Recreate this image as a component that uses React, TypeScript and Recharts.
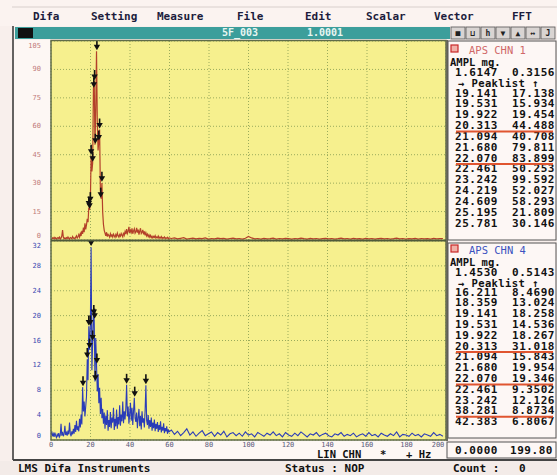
import React from 'react';
import { ComposedChart, Line, XAxis, YAxis, CartesianGrid } from 'recharts';

// FFT line spacing of the analyser (512 lines over 200 Hz)
const BIN = 0.390625;
// bins above ~60 Hz are kept every 4th line only
const TAIL_START = 156;
const TAIL_STEP = 4;

const freqTicks = [0, 20, 40, 60, 80, 100, 120, 140, 160, 180, 200];
const chn1Ticks = [0, 15, 30, 45, 60, 75, 90, 105];
const chn4Ticks = [0, 4, 8, 12, 16, 20, 24, 28, 32];

// APS CHN 1, bins 0..153 (0 - 59.8 Hz)
const chn1Low = [
  0.2, 0.6, 1.1, 0.8, 1.4, 0.7, 1.2, 0.5, 0.9, 1.3,
  0.8, 1.5, 0.6, 1.0, 2.1, 5.2, 1.4, 0.7, 1.1, 0.6,
  1.2, 0.8, 1.6, 0.9, 0.5, 1.3, 1.0, 0.7, 1.8, 0.9,
  1.1, 0.6, 1.4, 2.2, 1.0, 1.7, 2.8, 1.5, 3.4, 2.1,
  4.8, 3.2, 6.5, 4.1, 8.8, 5.6, 7.9, 11.2, 9.4, 17.1,
  15.9, 19.5, 44.5, 36.2, 40.7, 79.8, 83.9, 50.3, 68.5, 99.6,
  63.1, 47.2, 52.0, 58.3, 26.4, 21.8, 30.1, 14.6, 8.2, 5.1,
  3.6, 2.2, 4.1, 1.8, 3.0, 2.4, 1.5, 3.3, 2.0, 2.7,
  1.6, 3.1, 2.3, 1.4, 2.9, 1.9, 3.6, 2.2, 1.5, 2.8,
  2.0, 3.4, 2.5, 1.7, 3.9, 2.6, 4.4, 3.1, 5.8, 3.5,
  4.6, 6.9, 3.8, 5.2, 4.0, 6.1, 3.3, 4.8, 5.9, 3.6,
  4.3, 6.4, 3.9, 5.5, 2.8, 4.7, 6.2, 3.4, 4.1, 5.3,
  3.0, 4.6, 2.5, 3.8, 2.2, 3.1, 1.8, 2.7, 1.5, 2.4,
  1.3, 2.0, 1.1, 1.9, 1.4, 2.3, 1.0, 1.6, 1.2, 2.1,
  0.9, 1.5, 1.1, 1.8, 0.8, 1.3, 1.0, 1.6, 0.7, 1.2, 0.9, 1.4, 0.6, 1.1,
];
const chn1Tail = [
  0.8, 1.1, 0.6, 0.9, 1.2, 0.5, 0.8, 1.0, 0.6, 0.9,
  0.7, 1.1, 0.5, 0.8, 0.6, 1.0, 0.7, 0.9, 0.5, 0.8,
  1.0, 0.6, 0.8, 0.5, 0.9, 1.9, 1.1, 0.6, 0.8, 0.5,
  0.9, 0.6, 0.7, 1.0, 0.5, 0.8, 0.6, 0.9, 0.7, 0.5,
  0.8, 0.6, 1.0, 0.7, 0.5, 0.9, 0.6, 0.8, 0.5, 0.7,
  0.9, 0.6, 0.8, 0.5, 0.7, 1.0, 0.6, 0.8, 0.5, 0.9,
  0.6, 0.7, 0.5, 0.9, 0.6, 0.8, 0.5, 0.7, 0.9, 0.6,
  0.8, 0.5, 0.7, 1.0, 0.6, 0.8, 0.5, 0.7, 0.6, 0.9,
  0.5, 0.8, 0.6, 0.7, 0.5, 0.9, 0.6, 0.7, 0.8,
];

// APS CHN 4, bins 0..153
const chn4Low = [
  0.8, 1.4, 0.6, 1.0, 0.5, 1.2, 0.7, 0.4, 0.9, 0.6,
  1.1, 0.5, 0.8, 2.6, 0.7, 1.3, 0.6, 1.0, 2.3, 0.8,
  1.2, 0.7, 1.5, 0.9, 2.8, 1.1, 0.6, 1.4, 0.9, 1.8,
  1.0, 2.4, 1.3, 3.1, 1.6, 2.2, 1.4, 3.4, 2.0, 4.1,
  2.5, 8.5, 4.6, 6.2, 3.8, 5.4, 7.0, 13.0, 9.6, 18.3,
  14.5, 18.3, 31.0, 11.2, 15.8, 20.0, 19.3, 9.4, 16.4, 12.1,
  7.8, 10.6, 5.9, 8.4, 4.2, 6.8, 3.5, 5.0, 2.6, 4.4,
  1.8, 3.9, 2.4, 4.8, 1.5, 3.2, 2.1, 4.5, 1.9, 3.6,
  2.8, 5.2, 1.6, 3.4, 2.2, 4.9, 1.8, 3.7, 2.5, 5.6,
  2.3, 4.1, 3.0, 6.2, 2.7, 4.6, 3.3, 5.1, 8.9, 3.8,
  5.4, 2.6, 4.2, 6.0, 3.1, 5.2, 2.4, 4.7, 6.8, 3.5,
  2.9, 4.4, 1.9, 3.6, 5.0, 2.2, 3.9, 1.7, 4.6, 2.8,
  3.5, 2.0, 4.8, 8.8, 3.1, 2.4, 4.0, 1.8, 3.2, 2.1,
  3.6, 1.5, 2.8, 1.9, 3.3, 1.4, 2.6, 1.8, 2.9, 1.3,
  2.4, 1.6, 3.0, 1.2, 2.1, 1.5, 2.7, 1.1, 1.9, 1.4, 2.2, 1.0, 1.7, 1.3,
];
const chn4Tail = [
  1.6, 0.9, 1.4, 0.7, 1.2, 1.8, 0.8, 1.3, 0.6, 1.1,
  1.5, 0.7, 1.0, 1.3, 0.6, 1.2, 0.8, 1.4, 0.5, 1.0,
  1.2, 0.7, 1.1, 0.6, 1.3, 0.8, 1.0, 0.5, 1.2, 0.9,
  0.6, 1.1, 0.8, 1.3, 0.7, 1.0, 0.5, 1.2, 0.8, 0.6,
  1.1, 0.7, 1.3, 0.9, 0.5, 1.0, 0.8, 1.2, 0.6, 0.9,
  1.1, 0.7, 0.5, 1.0, 0.8, 1.2, 0.6, 0.9, 0.7, 1.1,
  0.5, 0.8, 1.0, 0.6, 1.2, 0.7, 0.9, 0.5, 1.1, 0.8,
  0.6, 1.0, 0.7, 1.3, 0.5, 0.9, 0.8, 0.6, 1.1, 0.7,
  0.9, 0.5, 1.0, 0.8, 0.6, 1.2, 0.7, 0.9, 0.6,
];

// peak lists as shown in the side panels
const chn1PeakFreq = [19.141, 19.531, 19.922, 20.313, 21.094, 21.68, 22.07, 22.461, 23.242, 24.219, 24.609, 25.195, 25.781];
const chn1PeakAmp = [17.138, 15.934, 19.454, 44.488, 40.708, 79.811, 83.899, 50.253, 99.592, 52.027, 58.293, 21.809, 30.146];
const chn4PeakFreq = [16.211, 18.359, 19.141, 19.531, 19.922, 20.313, 21.094, 21.68, 22.07, 22.461, 23.242, 38.281, 42.383];
const chn4PeakAmp = [8.469, 13.024, 18.258, 14.536, 18.267, 31.018, 15.843, 19.954, 19.346, 9.3502, 12.126, 8.8734, 6.8067];
// one more marked peak that is scrolled out of the list
const chn4ExtraFreq = [48.047];
const chn4ExtraAmp = [8.8];

const chn1Marked = [3, 6];
const chn4Marked = [5, 8, 11];

const menuItems = ['Difa', 'Setting', 'Measure', 'File', 'Edit', 'Scalar', 'Vector', 'FFT'];
const menuX = [33, 91, 157, 237, 305, 366, 434, 512];

const FONT = '"DejaVu Sans Mono", "Liberation Mono", monospace';

const spectrum = (low: number[], tail: number[]) => [
  ...low.map((v, i) => ({ f: i * BIN, v })),
  ...tail.map((v, i) => ({ f: (TAIL_START + i * TAIL_STEP) * BIN, v })),
];
const peaks = (fs: number[], vs: number[]) => fs.map((f, i) => ({ f, v: vs[i] }));

const chn1Data = spectrum(chn1Low, chn1Tail);
const chn4Data = spectrum(chn4Low, chn4Tail);
const chn1Peaks = peaks(chn1PeakFreq, chn1PeakAmp);
const chn4Peaks = [...peaks(chn4PeakFreq, chn4PeakAmp), ...peaks(chn4ExtraFreq, chn4ExtraAmp)];

const renderArrow = (p: any) => {
  const { cx, cy, index } = p;
  if (cx == null || cy == null) return <g key={`n${index}`} />;
  return (
    <g key={`a${index}`}>
      <line x1={cx} x2={cx} y1={cy - 11} y2={cy - 5} stroke="#111" strokeWidth={1.6} />
      <path d={`M${cx - 3.2},${cy - 6.5} L${cx + 3.2},${cy - 6.5} L${cx},${cy - 1} Z`} fill="#111" />
    </g>
  );
};

// chart-local plot area runs from y=1 to y=200 in both charts
const yTick = (color: string) => (p: any) => {
  const y = Math.min(Math.max(p.y, 6), 196);
  return (
    <text x={p.x - 2} y={y} textAnchor="end" dominantBaseline="central" fontSize={7} fontFamily={FONT} fill={color}>
      {p.payload.value}
    </text>
  );
};

const xTick = (p: any) => (
  <text x={Math.min(p.x, 425)} y={p.y + 4.5} textAnchor="middle" dominantBaseline="central" fontSize={7} fontFamily={FONT} fill="#5a5a7a">
    {p.payload.value}
  </text>
);

const ROW_FONT = { fontSize: 11, letterSpacing: 0.55 };

function PeakBox({ top, title, titleColor, ampl, freqs, amps, marked, rowTop, rowH }: any) {
  return (
    <g fontFamily={FONT} fontWeight="bold">
      <rect x={451} y={top + 4} width={7} height={7} fill="#f0b0a8" stroke="#c82828" strokeWidth={1.2} />
      <text x={469} y={top + 9} fontSize={10.5} fill={titleColor} fontWeight="normal" dominantBaseline="central">{title}</text>
      <text x={450} y={top + 20.5} fontSize={10.5} fill="#111" dominantBaseline="central">AMPL mg.</text>
      <text x={455} y={top + 31} {...ROW_FONT} fill="#111" dominantBaseline="central">{ampl[0]}</text>
      <text x={512} y={top + 31} {...ROW_FONT} fill="#111" dominantBaseline="central">{ampl[1]}</text>
      <text x={458} y={top + 42} fontSize={10.5} letterSpacing={0.4} fill="#111" dominantBaseline="central">→ Peaklist ↑</text>
      {freqs.map((f: number, i: number) => (
        <g key={i}>
          <text x={455} y={rowTop + i * rowH} {...ROW_FONT} fill="#111" dominantBaseline="central">{f.toFixed(3)}</text>
          <text x={512} y={rowTop + i * rowH} {...ROW_FONT} fill="#111" dominantBaseline="central">{amps[i].toPrecision(5)}</text>
        </g>
      ))}
      {marked.map((r: number) => (
        <line key={r} x1={456} x2={553} y1={rowTop + r * rowH + 6} y2={rowTop + r * rowH + 6} stroke="#e05530" strokeWidth={2} />
      ))}
    </g>
  );
}

export default function App() {
  const buttons = ['■', '⊔', 'h', '▼', '▲', '↔', 'J'];
  return (
    <div style={{ position: 'fixed', left: 0, top: 0, width: 557, height: 475, background: '#f8efec', overflow: 'hidden' }}>
      <div style={{ position: 'absolute', left: 14, top: 40, width: 37, height: 420, background: '#fdf7f4' }} />
      <div style={{ position: 'absolute', left: 14, top: 441, width: 434, height: 19, background: '#fdf7f4' }} />

      <ComposedChart width={436} height={200} margin={{ top: 1, right: 3, bottom: 0, left: 0 }} style={{ position: 'absolute', left: 13, top: 40 }}>
        <CartesianGrid fill="#f6f08e" stroke="#9aab5c" strokeDasharray="1 2" />
        <XAxis type="number" dataKey="f" domain={[0, 200]} ticks={freqTicks} hide allowDataOverflow />
        <YAxis type="number" dataKey="v" domain={[0, 105]} ticks={chn1Ticks} width={38} interval={0} tickLine={false} axisLine={false} tick={yTick('#c07a7a')} allowDataOverflow />
        <Line data={chn1Data} dataKey="v" type="linear" stroke="#b3402a" strokeWidth={1.2} dot={false} isAnimationActive={false} />
        <Line data={chn1Peaks} dataKey="v" type="linear" stroke="none" dot={renderArrow} activeDot={false} isAnimationActive={false} />
      </ComposedChart>

      <ComposedChart width={436} height={214} margin={{ top: 1, right: 3, bottom: 0, left: 0 }} style={{ position: 'absolute', left: 13, top: 240 }}>
        <CartesianGrid fill="#f6f08e" stroke="#9aab5c" strokeDasharray="1 2" />
        <XAxis type="number" dataKey="f" domain={[0, 200]} ticks={freqTicks} height={14} interval={0} tickSize={0} tickMargin={0} tickLine={false} axisLine={false} tick={xTick} allowDataOverflow />
        <YAxis type="number" dataKey="v" domain={[0, 32]} ticks={chn4Ticks} width={38} interval={0} tickLine={false} axisLine={false} tick={yTick('#3848b0')} allowDataOverflow />
        <Line data={chn4Data} dataKey="v" type="linear" stroke="#2a3cb8" strokeWidth={1.1} dot={false} isAnimationActive={false} />
        <Line data={chn4Peaks} dataKey="v" type="linear" stroke="none" dot={renderArrow} activeDot={false} isAnimationActive={false} />
      </ComposedChart>

      <svg width={557} height={475} style={{ position: 'absolute', left: 0, top: 0, pointerEvents: 'none' }}>
        {/* menu */}
        <rect x={0} y={0} width={557} height={26} fill="#fbf3f0" />
        <line x1={12} x2={557} y1={7} y2={7} stroke="#d8cfcc" />
        {menuItems.map((m, i) => (
          <text key={m} x={menuX[i]} y={16} fontSize={11} fontFamily={FONT} fontWeight="bold" fill="#1c1c3c" dominantBaseline="central">{m}</text>
        ))}
        {/* title bar */}
        <rect x={15} y={27} width={435} height={12} fill="#3c9e9b" />
        <rect x={18} y={28} width={15} height={10} fill="#111" />
        <text x={222} y={32.5} fontSize={10} fontFamily={FONT} fontWeight="bold" fill="#e8f6f2" dominantBaseline="central">5F_003</text>
        <text x={307} y={32.5} fontSize={10} fontFamily={FONT} fontWeight="bold" fill="#e8f6f2" dominantBaseline="central">1.0001</text>
        {buttons.map((b, i) => (
          <g key={i}>
            <rect x={451 + i * 15} y={27} width={14} height={12} fill="#d9d4d2" stroke="#555" strokeWidth={0.8} />
            <text x={458 + i * 15} y={33.5} fontSize={8} fontFamily={FONT} fontWeight="bold" fill="#222" textAnchor="middle" dominantBaseline="central">{b}</text>
          </g>
        ))}
        {/* window frame and plot borders */}
        <line x1={13} x2={13} y1={26} y2={460} stroke="#333" strokeWidth={1.5} />
        <rect x={51} y={40.5} width={395} height={399.5} fill="none" stroke="#5f6c48" strokeWidth={1.5} />
        <line x1={51} x2={446} y1={240.5} y2={240.5} stroke="#4f5a3a" strokeWidth={2} />
        <rect x={446} y={40} width={2} height={401} fill="#6a6a5a" />
        {/* peak list panels */}
        <rect x={448} y={41} width={108} height={199} fill="#fdf7f5" stroke="#555" strokeWidth={1} />
        <rect x={448} y={243} width={108} height={195} fill="#fdf7f5" stroke="#555" strokeWidth={1} />
        <PeakBox top={41} title="APS CHN 1" titleColor="#d06868" ampl={['1.6147', '0.3156']} freqs={chn1PeakFreq} amps={chn1PeakAmp} marked={chn1Marked} rowTop={93} rowH={10.85} />
        <PeakBox top={241} title="APS CHN 4" titleColor="#3a52c0" ampl={['1.4530', '0.5143']} freqs={chn4PeakFreq} amps={chn4PeakAmp} marked={chn4Marked} rowTop={292} rowH={10.8} />
        <rect x={447} y={442} width={109} height={16} fill="#fdf7f5" stroke="#555" strokeWidth={1} />
        <text x={455} y={450} {...ROW_FONT} fontFamily={FONT} fontWeight="bold" fill="#111" dominantBaseline="central">0.0000</text>
        <text x={510} y={450} {...ROW_FONT} fontFamily={FONT} fontWeight="bold" fill="#111" dominantBaseline="central">199.80</text>
        {/* axis caption */}
        <text x={317} y={454} fontSize={10.5} fontFamily={FONT} fontWeight="bold" fill="#111" dominantBaseline="central">LIN CHN</text>
        <text x={380} y={454} fontSize={10.5} fontFamily={FONT} fontWeight="bold" fill="#111" dominantBaseline="central">*</text>
        <text x={406} y={454} fontSize={10.5} fontFamily={FONT} fontWeight="bold" fill="#111" dominantBaseline="central">+ Hz</text>
        {/* status bar */}
        <rect x={13} y={459} width={544} height={2} fill="#444" />
        <rect x={0} y={461} width={557} height={14} fill="#f3ebe8" />
        <text x={18} y={468.5} fontSize={11} fontFamily={FONT} fontWeight="bold" fill="#111" dominantBaseline="central">LMS Difa Instruments</text>
        <text x={285} y={468.5} fontSize={11} fontFamily={FONT} fontWeight="bold" fill="#111" dominantBaseline="central">Status : NOP</text>
        <text x={453} y={468.5} fontSize={11} fontFamily={FONT} fontWeight="bold" fill="#111" dominantBaseline="central">Count :</text>
        <text x={519} y={468.5} fontSize={11} fontFamily={FONT} fontWeight="bold" fill="#111" dominantBaseline="central">0</text>
      </svg>
    </div>
  );
}
